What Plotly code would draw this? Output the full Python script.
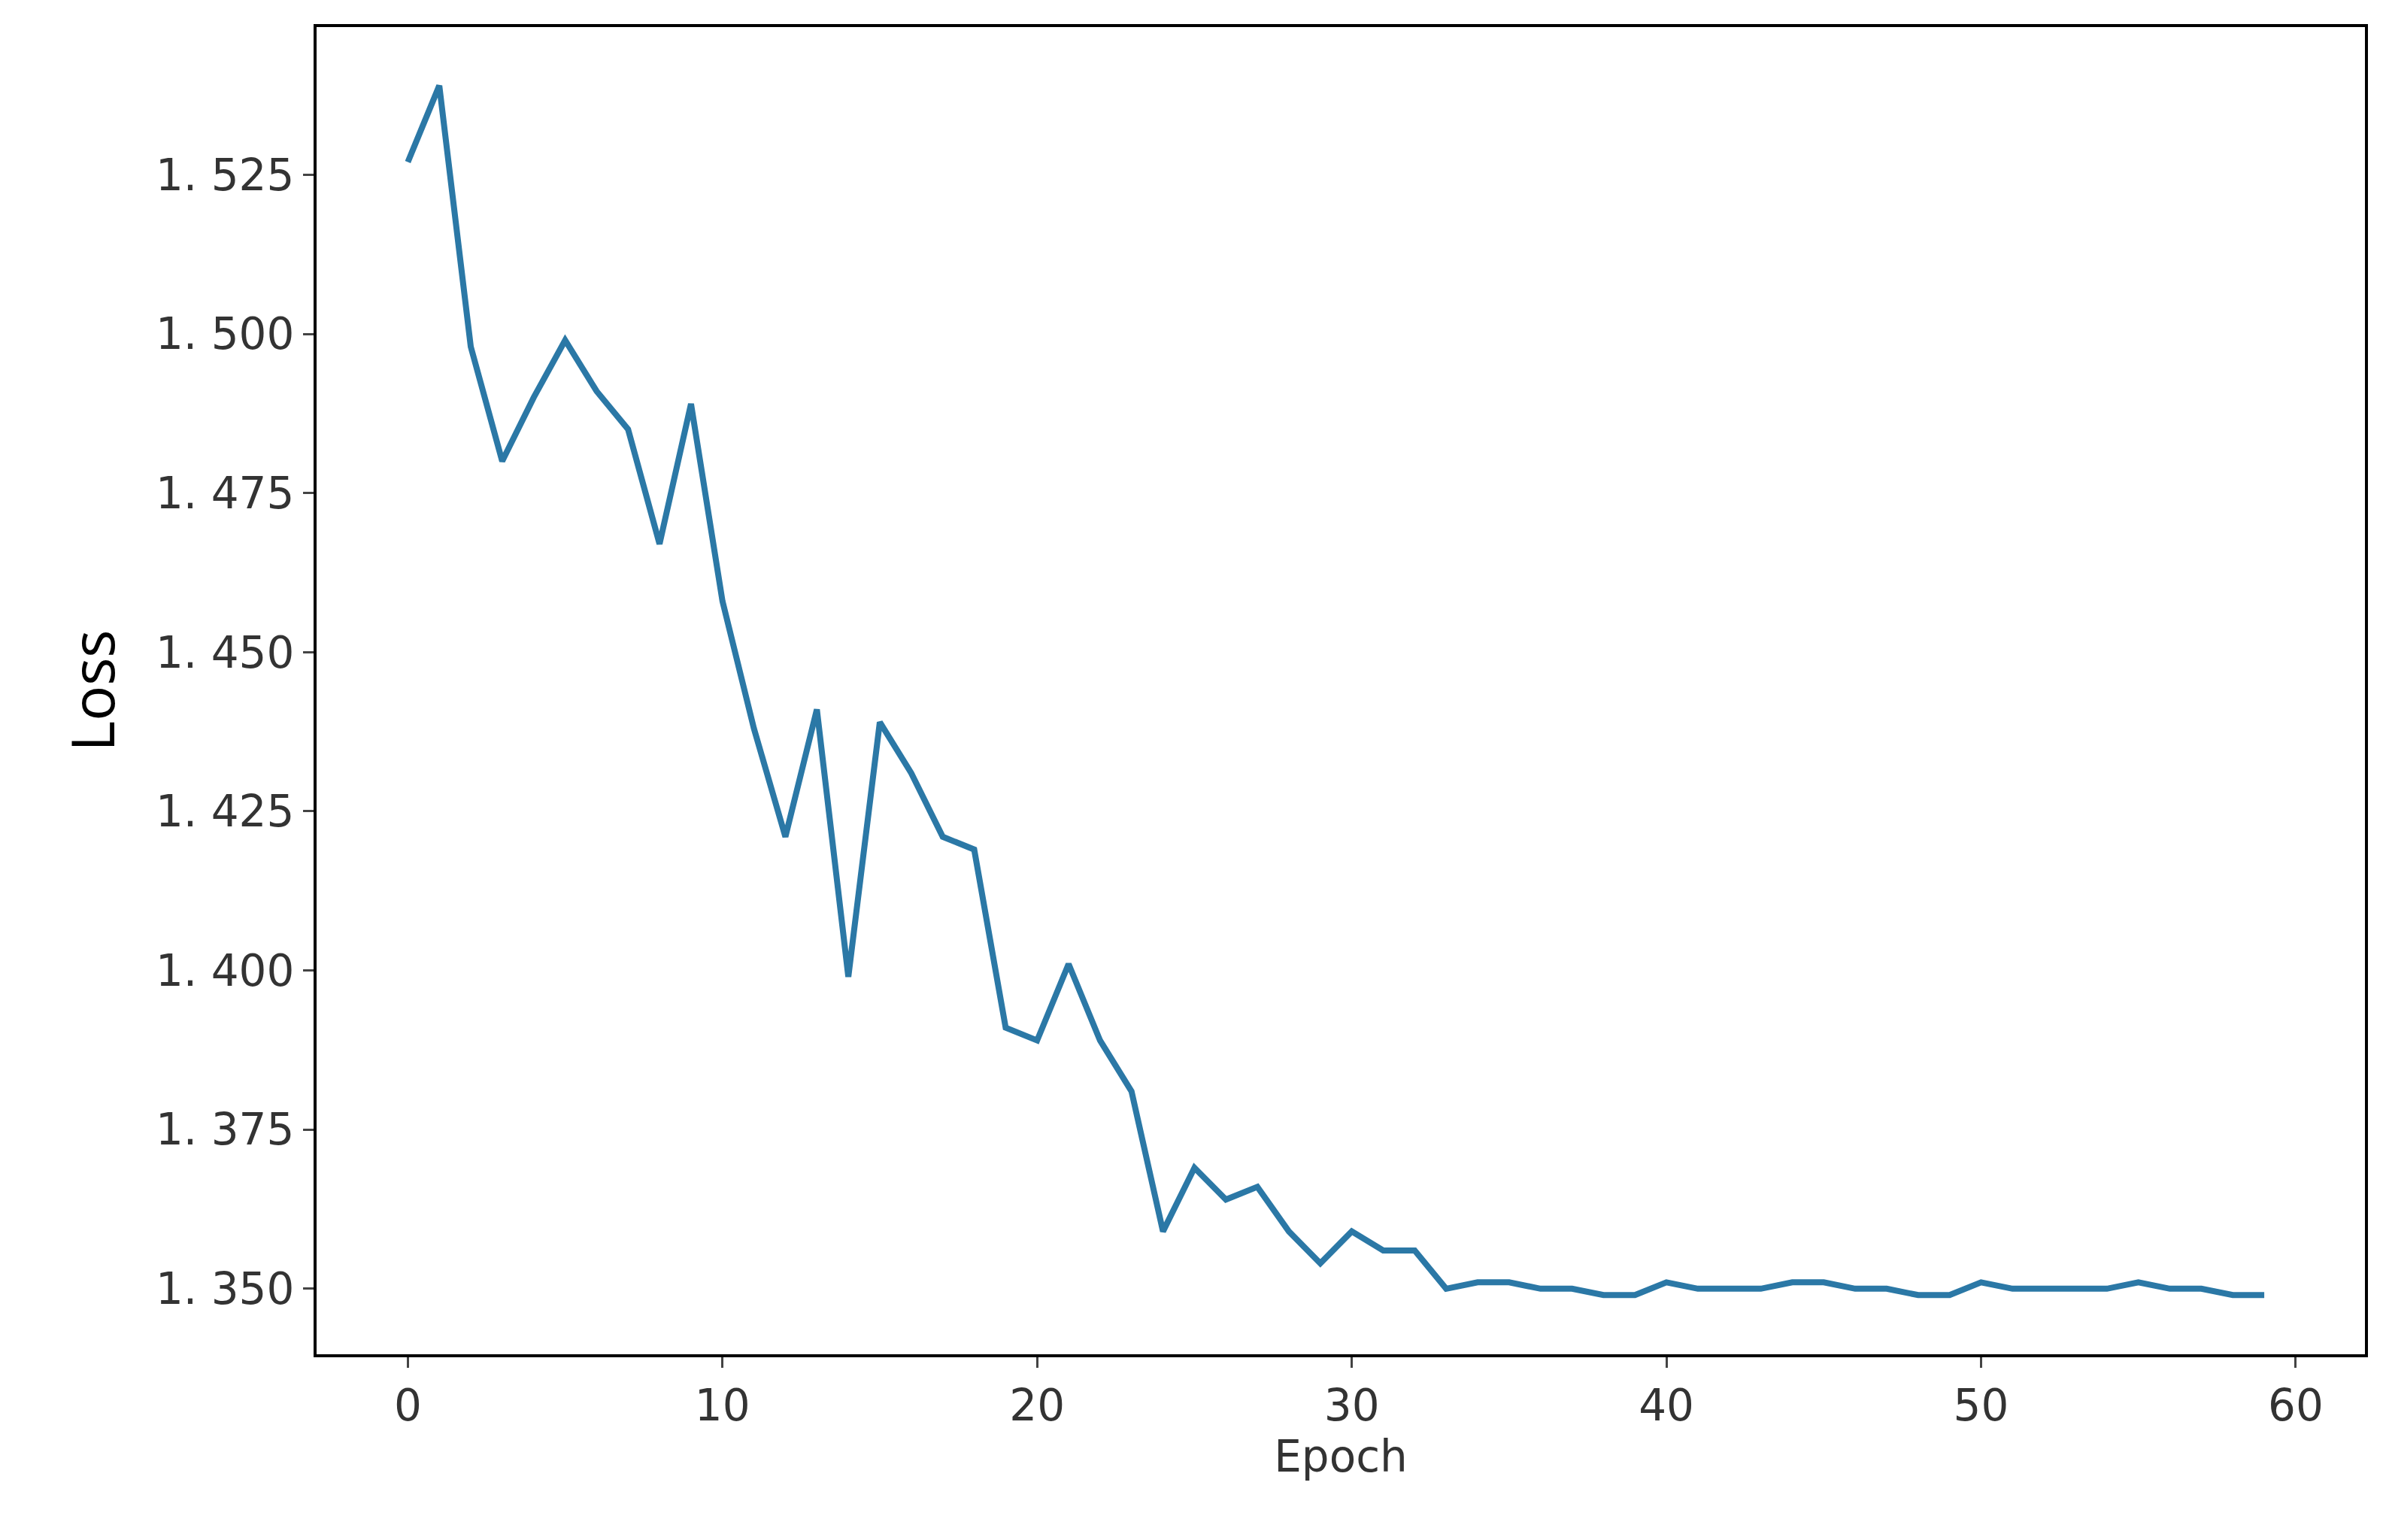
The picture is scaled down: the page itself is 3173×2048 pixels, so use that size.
import plotly.graph_objects as go

epochs = list(range(60))
loss = [1.527, 1.539, 1.498, 1.480, 1.490, 1.499, 1.491, 1.485, 1.467, 1.489,
        1.458, 1.438, 1.421, 1.441, 1.399, 1.439, 1.431, 1.421, 1.419, 1.391,
        1.389, 1.401, 1.389, 1.381, 1.359, 1.369, 1.364, 1.366, 1.359, 1.354,
        1.359, 1.356, 1.356, 1.350, 1.351, 1.351, 1.350, 1.350, 1.349, 1.349,
        1.351, 1.350, 1.350, 1.350, 1.351, 1.351, 1.350, 1.350, 1.349, 1.349,
        1.351, 1.350, 1.350, 1.350, 1.350, 1.351, 1.350, 1.350, 1.349, 1.349]
ytick_vals = [1.350, 1.375, 1.400, 1.425, 1.450, 1.475, 1.500, 1.525]
ytick_text = ["1. 350", "1. 375", "1. 400", "1. 425", "1. 450", "1. 475", "1. 500", "1. 525"]
xtick_vals = [0, 10, 20, 30, 40, 50, 60]

fig = go.Figure(go.Scatter(x=epochs, y=loss, mode="lines",
                           line=dict(color="#2b78a6", width=8)))
fig.update_layout(
    width=3173, height=2048, paper_bgcolor="white", plot_bgcolor="white",
    margin=dict(l=413, r=36, t=28, b=255), showlegend=False,
    font=dict(family="DejaVu Sans", color="#333333", size=58),
)
fig.update_xaxes(range=[-2.9, 62.2], tickvals=xtick_vals, ticks="outside", ticklen=14,
                 tickwidth=3, showgrid=False, zeroline=False, mirror=True, showline=True,
                 linecolor="black", linewidth=4,
                 title=dict(text="Epoch", font=dict(size=58), standoff=10))
fig.update_yaxes(range=[1.3397, 1.5482], tickvals=ytick_vals, ticktext=ytick_text,
                 ticks="outside", ticklen=14, tickwidth=3, showgrid=False, zeroline=False,
                 mirror=True, showline=True, linecolor="black", linewidth=4,
                 title=dict(text="Loss", font=dict(size=78, family="Open Sans", color="black"), standoff=30))
fig.write_html("out.html")
